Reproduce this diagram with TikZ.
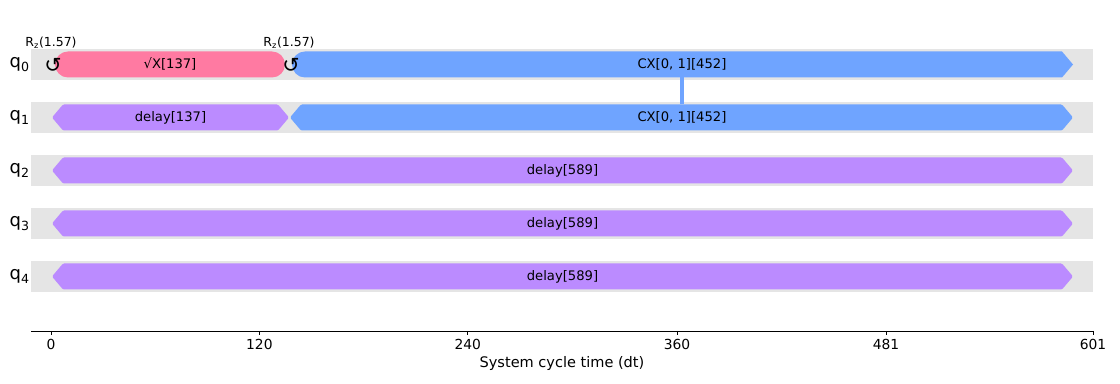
\documentclass[tikz,border=0pt]{standalone}
\usepackage{fontspec}
\setmainfont{DejaVu Sans}
\usepackage{tikz}
\usetikzlibrary{positioning,calc}
\definecolor{bandgray}{RGB}{229,229,229}
\definecolor{sxpink}{RGB}{255,122,162}
\definecolor{cxblue}{RGB}{111,164,255}
\definecolor{delaypurple}{RGB}{187,139,255}

% hexagon gate: x start, x end, row y, colour
\newcommand{\hexgate}[4]{%
  \fill[#4, rounded corners=0.3mm] (#1,#3) -- ($(#1,#3)+(11,-13)$) -- ($(#2,#3)+(-11,-13)$)
    -- (#2,#3) -- ($(#2,#3)+(-11,13)$) -- ($(#1,#3)+(11,13)$) -- cycle;}

\begin{document}
\begin{tikzpicture}[
    x=0.254mm, y=-0.254mm,
    band/.style={fill=bandgray},
    glabel/.style={font=\fontsize{9.5}{11}\selectfont, inner sep=0pt},
    qlabel/.style={font=\fontsize{13}{15}\selectfont, inner sep=0pt, anchor=east},
    rzlabel/.style={font=\fontsize{9}{11}\selectfont, inner sep=0pt},
    rzsym/.style={font=\fontsize{15}{16}\selectfont, inner sep=0pt},
    tick/.style={font=\fontsize{10}{12}\selectfont, inner sep=0pt, anchor=north}
]
    \useasboundingbox (0,0) rectangle (1120,384);

    % qubit rows
    \foreach \k in {0,...,4} {
        \fill[band] (31,49+53*\k) rectangle (1093,80+53*\k);
        \node[qlabel] (q\k) at (30,64.5+53*\k) {q\textsubscript{\k}};
    }

    % q0: sqrt X then CX
    \fill[sxpink, rounded corners=3.3mm] (55,51.5) rectangle (285,77.5);
    \fill[cxblue] (1062,51.5) -- (1073,64.5) -- (1062,77.5)
        [rounded corners=3.3mm] -- (292,77.5) -- (292,51.5) [sharp corners] -- cycle;
    \node[glabel] (sx) at (170,64.5) {√X[137]};
    \node[glabel] (cxa) at (682,64.5) {CX[0, 1][452]};

    % q1: delay then CX
    \hexgate{52}{289}{117.5}{delaypurple}
    \hexgate{290}{1073}{117.5}{cxblue}
    \node[glabel] (d1) at (170.5,117.5) {delay[137]};
    \node[glabel] (cxb) at (682,117.5) {CX[0, 1][452]};

    % q2..q4: idle
    \foreach \k in {2,3,4} {
        \hexgate{52}{1073}{64.5+53*\k}{delaypurple}
        \node[glabel] (d\k) at (562.5,64.5+53*\k) {delay[589]};
    }

    % CX link
    \coordinate (cxtop) at (682,77.5);
    \coordinate (cxbot) at (682,104.5);
    \draw[cxblue, line width=2.2pt] (cxtop) -- (cxbot);

    % frame changes
    \node[rzsym] (rz1) at (53,65) {↺};
    \node[rzsym] (rz2) at (291,65) {↺};
    \node[rzlabel] (rzl1) at (51,43) {R\textsubscript{z}(1.57)};
    \node[rzlabel] (rzl2) at (289,43) {R\textsubscript{z}(1.57)};

    % time axis
    \coordinate (axl) at (31,331);
    \coordinate (axr) at (1093,331);
    \draw[line width=0.6pt] (axl) -- (axr);
    \foreach \t/\x in {0/51, 120/259.4, 240/467.8, 360/677, 481/886, 601/1093} {
        \draw[line width=0.6pt] (\x,331) -- (\x,335);
        \node[tick] (t\t) at (\x,339) {\t};
    }
    \node[font=\fontsize{10.5}{12}\selectfont, inner sep=0pt] (xlab) at (562,363) {System cycle time (dt)};
\end{tikzpicture}
\end{document}
